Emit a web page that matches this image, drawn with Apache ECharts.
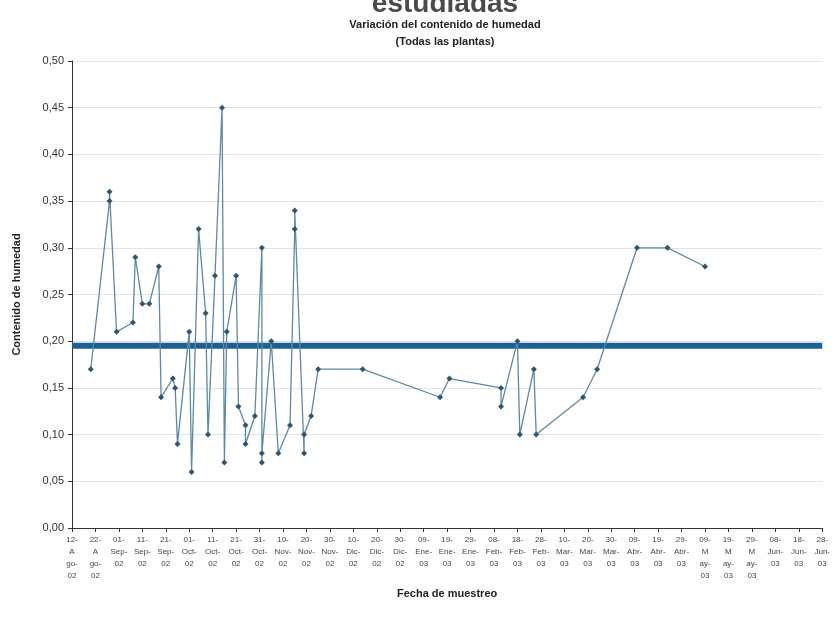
<!DOCTYPE html>
<html>
<head>
<meta charset="utf-8">
<script src="https://cdn.jsdelivr.net/npm/echarts@6/dist/echarts.min.js"></script>
<style>html,body{margin:0;padding:0;background:#fff;}#c{width:833px;height:625px;}</style>
</head>
<body>
<div id="c"></div>
<script>
const fechas = ['2002-08-20','2002-08-28','2002-08-28','2002-08-31','2002-09-07','2002-09-08','2002-09-11','2002-09-14','2002-09-18','2002-09-19','2002-09-24','2002-09-25','2002-09-26','2002-10-01','2002-10-02','2002-10-05','2002-10-08','2002-10-09','2002-10-12','2002-10-15','2002-10-16','2002-10-17','2002-10-21','2002-10-22','2002-10-25','2002-10-25','2002-10-29','2002-11-01','2002-11-01','2002-11-01','2002-11-05','2002-11-08','2002-11-13','2002-11-15','2002-11-15','2002-11-19','2002-11-19','2002-11-22','2002-11-25','2002-12-14','2003-01-16','2003-01-20','2003-02-11','2003-02-11','2003-02-18','2003-02-19','2003-02-25','2003-02-26','2003-03-18','2003-03-24','2003-04-10','2003-04-23','2003-05-09'];
const humedad = [0.17,0.35,0.36,0.21,0.22,0.29,0.24,0.24,0.28,0.14,0.16,0.15,0.09,0.21,0.06,0.32,0.23,0.10,0.27,0.45,0.07,0.21,0.27,0.13,0.11,0.09,0.12,0.30,0.07,0.08,0.20,0.08,0.11,0.32,0.34,0.08,0.10,0.12,0.17,0.17,0.14,0.16,0.15,0.13,0.20,0.10,0.17,0.10,0.14,0.17,0.30,0.30,0.28];
const promedio = 0.195;
const fechaInicio = '2002-08-12';
const fechaFin = '2003-06-28';
const tickLabels = ['12-\nA\ngo-\n02','22-\nA\ngo-\n02','01-\nSep-\n02','11-\nSep-\n02','21-\nSep-\n02','01-\nOct-\n02','11-\nOct-\n02','21-\nOct-\n02','31-\nOct-\n02','10-\nNov-\n02','20-\nNov-\n02','30-\nNov-\n02','10-\nDic-\n02','20-\nDic-\n02','30-\nDic-\n02','09-\nEne-\n03','19-\nEne-\n03','29-\nEne-\n03','08-\nFeb-\n03','18-\nFeb-\n03','28-\nFeb-\n03','10-\nMar-\n03','20-\nMar-\n03','30-\nMar-\n03','09-\nAbr-\n03','19-\nAbr-\n03','29-\nAbr-\n03','09-\nM\nay-\n03','19-\nM\nay-\n03','29-\nM\nay-\n03','08-\nJun-\n03','18-\nJun-\n03','28-\nJun-\n03'];

function utc(s){ const p=s.split('-').map(Number); return Date.UTC(p[0],p[1]-1,p[2]); }
function dia(s){ return Math.round((utc(s) - utc(fechaInicio))/86400000); }
const serie = fechas.map((f,i)=>[dia(f), humedad[i]]);
const maxDia = dia(fechaFin);

const font = 'Liberation Sans, Arial, sans-serif';
const chart = echarts.init(document.getElementById('c'));
chart.setOption({
  animation:false,
  backgroundColor:'#fff',
  title:[
    {text:'estudiadas', left:440, top:-15, textAlign:'center', textStyle:{fontFamily:font, fontSize:28, fontWeight:'bold', color:'#4a4a4a'}},
    {text:'Variación del contenido de humedad', left:440, top:14, textAlign:'center', textStyle:{fontFamily:font, fontSize:11, fontWeight:'bold', color:'#222'}},
    {text:'(Todas las plantas)', left:440, top:31, textAlign:'center', textStyle:{fontFamily:font, fontSize:11, fontWeight:'bold', color:'#222'}}
  ],
  grid:{left:72, right:8, top:61, bottom:97, containLabel:false},
  xAxis:{
    type:'value', min:0, max:maxDia, interval:10,
    name:'Fecha de muestreo', nameLocation:'middle', nameGap:60,
    nameTextStyle:{fontFamily:font, fontSize:11, fontWeight:'bold', color:'#222'},
    axisLine:{show:true, lineStyle:{color:'#333', width:1}},
    axisTick:{show:true, length:4, lineStyle:{color:'#333'}},
    splitLine:{show:false},
    axisLabel:{fontFamily:font, fontSize:8, color:'#444', lineHeight:12, margin:6, showMinLabel:true, showMaxLabel:true,
      formatter:function(v){ return tickLabels[Math.round(v/10)] || ''; }}
  },
  yAxis:{
    type:'value', min:0, max:0.5, interval:0.05,
    name:'Contenido de humedad', nameLocation:'middle', nameGap:50, nameRotate:90,
    nameTextStyle:{fontFamily:font, fontSize:11, fontWeight:'bold', color:'#222'},
    axisLine:{show:true, lineStyle:{color:'#333', width:1}},
    axisTick:{show:true, length:4, lineStyle:{color:'#333'}},
    splitLine:{show:true, lineStyle:{color:'#e2e2e2', width:1}},
    axisLabel:{fontFamily:font, fontSize:11, color:'#333', margin:8,
      formatter:function(v){ return v.toFixed(2).replace('.', ','); }}
  },
  series:[
    {type:'line', name:'Promedio', data:[[0,promedio],[maxDia,promedio]], symbol:'none',
      lineStyle:{color:'#1c5f93', width:6}, z:1},
    {type:'line', name:'Humedad', data:serie, symbol:'diamond', symbolSize:6,
      itemStyle:{color:'#2c5673'}, lineStyle:{color:'#5a8aa6', width:1.3}, z:3}
  ]
});
</script>
</body>
</html>
